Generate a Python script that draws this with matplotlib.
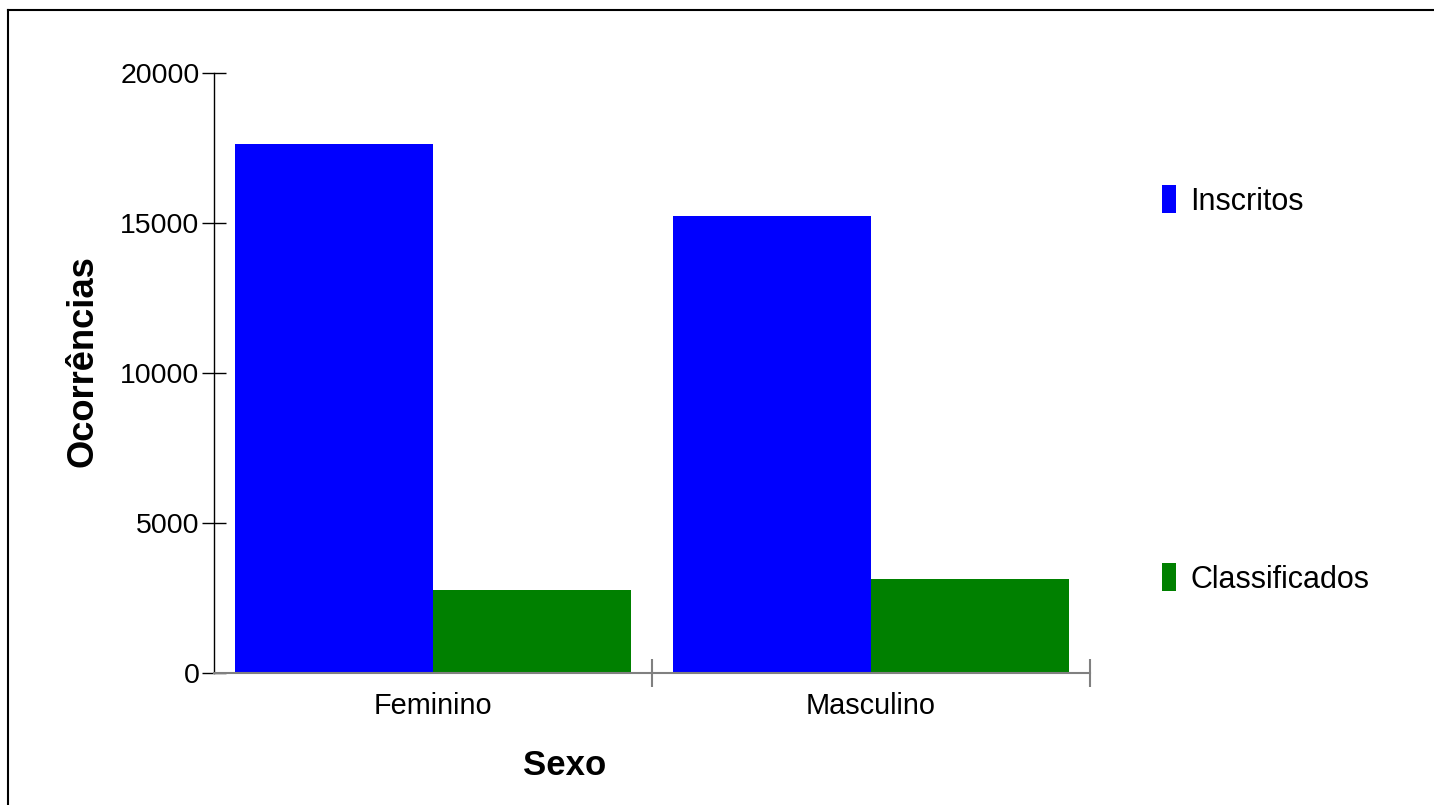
import matplotlib
matplotlib.use("Agg")
import matplotlib.pyplot as plt
from matplotlib.patches import Rectangle
from matplotlib.lines import Line2D
import numpy as np

categories = ["Feminino", "Masculino"]
series_names = ["Inscritos", "Classificados"]
inscritos = [17630, 15220]
classificados = [2780, 3125]
colors = ["#0000ff", "#008000"]
yticks = [0, 5000, 10000, 15000, 20000]

plt.rcParams['font.family'] = ['Liberation Sans', 'DejaVu Sans']

W, H = 1434, 805
fig = plt.figure(figsize=(W / 100, H / 100), dpi=100)
fig.patch.set_facecolor("white")

# outer border (top and left visible, extends past right/bottom)
fig.add_artist(Line2D([8 / W, 8 / W], [0, 1 - 10 / H], transform=fig.transFigure, color="black", lw=1.5))
fig.add_artist(Line2D([8 / W, 1.0], [1 - 10 / H, 1 - 10 / H], transform=fig.transFigure, color="black", lw=1.5))

ax_l, ax_r, ax_top, ax_bot = 214, 1090, 73, 673
ax = fig.add_axes([ax_l / W, 1 - ax_bot / H, (ax_r - ax_l) / W, (ax_bot - ax_top) / H])

x = np.arange(len(categories))
bw = 0.4514
ax.bar(x - bw / 2, inscritos, width=bw, color=colors[0], linewidth=0)
ax.bar(x + bw / 2, classificados, width=bw, color=colors[1], linewidth=0)

ax.set_xlim(-0.5, len(categories) - 0.5)
ax.set_ylim(0, 20000)

for s in ["top", "right"]:
    ax.spines[s].set_visible(False)
ax.spines["left"].set_color("black")
ax.spines["left"].set_linewidth(1.0)
ax.spines["bottom"].set_color("#808080")
ax.spines["bottom"].set_linewidth(1.5)

ax.set_yticks(yticks)
ax.set_yticklabels([str(v) for v in yticks])
ax.tick_params(axis="y", direction="inout", length=17, width=1, color="black",
               labelsize=20.5, pad=2)

ax.set_xticks(x)
ax.set_xticklabels(categories)
ax.tick_params(axis="x", which="major", length=0, labelsize=20.8, pad=14)
ax.set_xticks(np.arange(len(categories)) + 0.5, minor=True)
ax.tick_params(axis="x", which="minor", direction="inout", length=20, width=1.5, color="#808080")

ax.set_xlabel("Sexo", fontsize=25, fontweight="bold")
ax.xaxis.set_label_coords((565 - ax_l) / (ax_r - ax_l), (ax_bot - 765) / (ax_bot - ax_top))
ax.xaxis.label.set_va("center")
ax.set_ylabel("Ocorrências", fontsize=26.2, fontweight="bold")
ax.yaxis.set_label_coords((83 - ax_l) / (ax_r - ax_l), (ax_bot - 361) / (ax_bot - ax_top))
ax.yaxis.label.set_va("center")

# legend entries at the right
leg_y = [199, 577]
for name, col, yc in zip(series_names, colors, leg_y):
    fig.add_artist(Rectangle((1162 / W, 1 - (yc + 14) / H), 14 / W, 28 / H,
                             transform=fig.transFigure, color=col, lw=0))
    fig.text(1190 / W, 1 - (yc + 3) / H, name, fontsize=22, va="center", ha="left")

fig.savefig("out.png", dpi=100, facecolor="white")
